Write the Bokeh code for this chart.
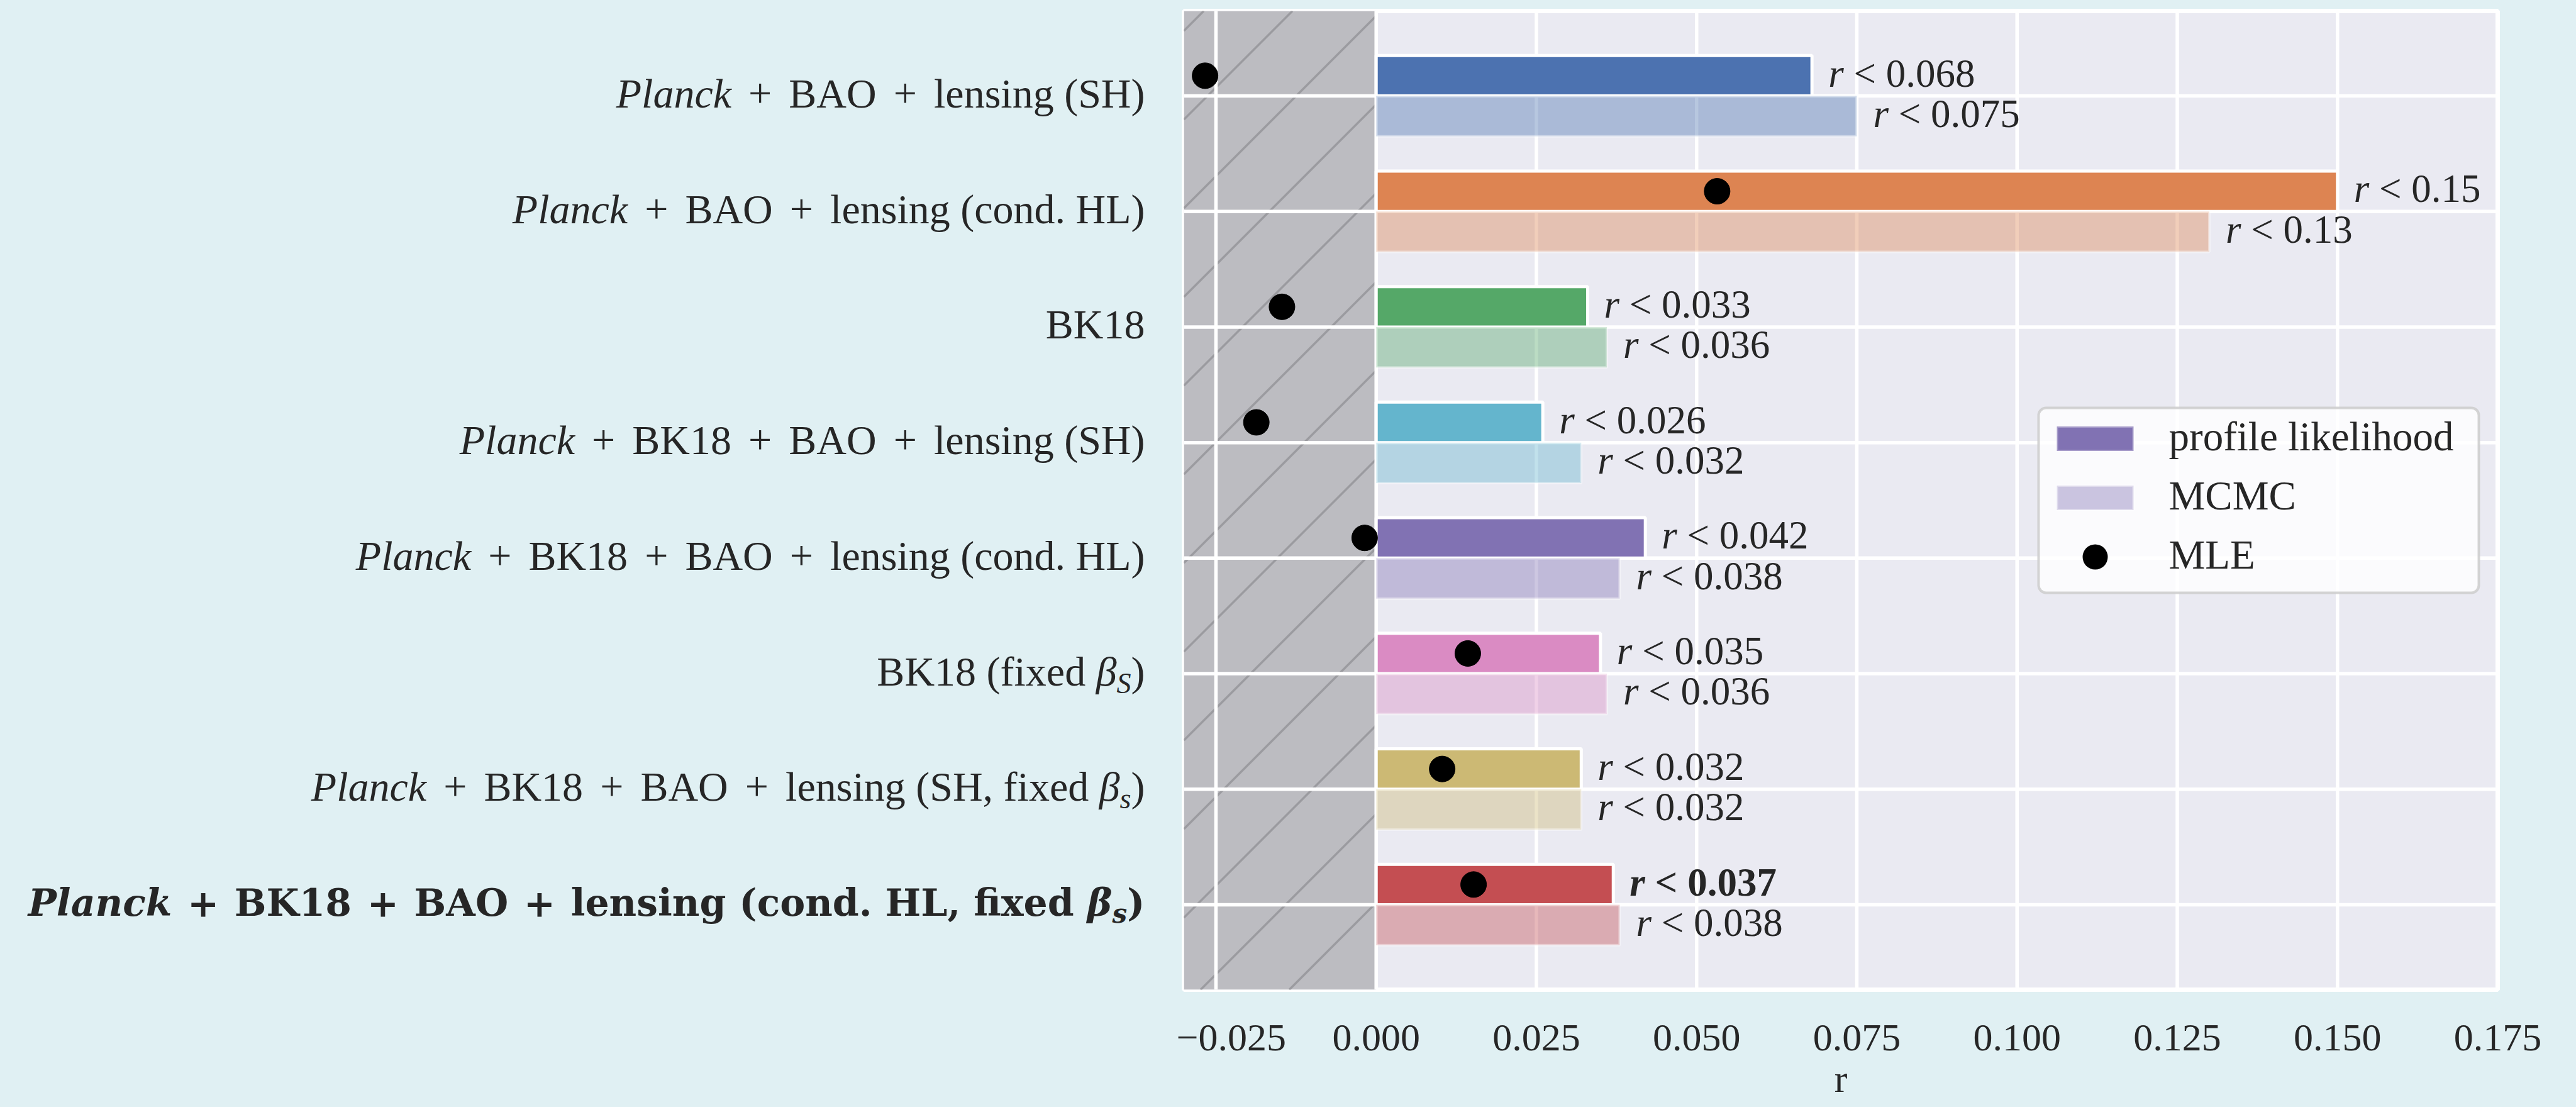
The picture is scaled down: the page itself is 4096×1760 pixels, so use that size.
import glob
import os

from bokeh.embed import file_html
from bokeh.layouts import row
from bokeh.models import (BoxAnnotation, ColumnDataSource, CustomJSTickFormatter,
                          FixedTicker, Label, Range1d)
from bokeh.plotting import figure
from bokeh.resources import INLINE

# ---------------------------------------------------------------------------
# Data: 95% upper limits on the tensor-to-scalar ratio r
# "*...*" marks italic runs, "_X" a one-character subscript
# ---------------------------------------------------------------------------
categories = [
    "*Planck* + BAO + lensing (SH)",
    "*Planck* + BAO + lensing (cond. HL)",
    "BK18",
    "*Planck* + BK18 + BAO + lensing (SH)",
    "*Planck* + BK18 + BAO + lensing (cond. HL)",
    "BK18 (fixed *β*_S)",
    "*Planck* + BK18 + BAO + lensing (SH, fixed *β*_s)",
    "*Planck* + BK18 + BAO + lensing (cond. HL, fixed *β*_s)",
]
highlight_row = 7

profile_upper = [0.068, 0.15, 0.033, 0.026, 0.042, 0.035, 0.032, 0.037]
mcmc_upper = [0.075, 0.13, 0.036, 0.032, 0.038, 0.036, 0.032, 0.038]
mle = [-0.0267, 0.0532, -0.0147, -0.0187, -0.0018, 0.0143, 0.0103, 0.0152]

x_ticks = [-0.025, 0.0, 0.025, 0.05, 0.075, 0.1, 0.125, 0.15, 0.175]
x_tick_labels = ["\u22120.025", "0.000", "0.025", "0.050", "0.075",
                 "0.100", "0.125", "0.150", "0.175"]
legend_labels = ["profile likelihood", "MCMC", "MLE"]

# ---------------------------------------------------------------------------
# Styling and page geometry (px, measured from the page's top-left corner)
# ---------------------------------------------------------------------------
palette = ["#4C72B0", "#DD8452", "#55A868", "#64B5CD",
           "#8172B3", "#DA8BC3", "#CCB974", "#C44E52"]
FONT = "Liberation Serif"
FONT_HL = "DejaVu Serif"                     # wide bold face for the highlighted row
INK = "#262626"
PAGE_BG = "#e0f0f3"
AXES_BG = "#EAEAF2"

W, H = 4096, 1760
LABEL_W = 1870                               # width of the category-label panel
FL, FR, FT, FB = 1882, 125, 17, 187          # main frame borders on the page
FW, FH = W - FL - FR, H - FT - FB
X0, X1 = -0.03, 0.175
Y_TOP, Y_BOT = -0.735, 7.735
BAR_H = 0.35
MCMC_ALPHA = 0.4

FS_YLAB, FS_ANN, FS_TICK, FS_LEG = 66, 63, 62, 65
LABEL_RIGHT = FL - 62                        # right edge of the category labels
HL_LEFT = 32                                 # left edge of the highlighted label
OP_PAD = 0.41                                # extra space around "+" (em)
MID_SHIFT = 0.06                             # optical centring of "middle" text (em)


def px_to_x(px):
    return X0 + (px - FL) / FW * (X1 - X0)


def px_to_y(py):
    return Y_TOP + (py - FT) / FH * (Y_BOT - Y_TOP)


def x_to_px(x):
    return FL + (x - X0) / (X1 - X0) * FW


def y_to_px(y):
    return FT + (y - Y_TOP) / (Y_BOT - Y_TOP) * FH


# ---------------------------------------------------------------------------
# Text measurement (for laying out mixed upright / italic runs)
# ---------------------------------------------------------------------------
_FILES = {
    "Liberation Serif": {"normal": "LiberationSerif-Regular.ttf",
                         "italic": "LiberationSerif-Italic.ttf",
                         "bold": "LiberationSerif-Bold.ttf",
                         "bold italic": "LiberationSerif-BoldItalic.ttf"},
    "DejaVu Serif": {"normal": "DejaVuSerif.ttf",
                     "italic": "DejaVuSerif-Italic.ttf",
                     "bold": "DejaVuSerif-Bold.ttf",
                     "bold italic": "DejaVuSerif-BoldItalic.ttf"},
}
_font_cache = {}


def _font_path(family, style):
    for root in ("/usr/share/fonts", "/usr/local/share/fonts",
                 os.path.expanduser("~/.fonts"), os.path.expanduser("~/.local/share/fonts")):
        hits = glob.glob(os.path.join(root, "**", _FILES[family][style]), recursive=True)
        if hits:
            return hits[0]
    return None


def text_width(s, style, size, family=FONT):
    key = (family, style, size)
    if key not in _font_cache:
        font = None
        try:
            from PIL import ImageFont
            path = _font_path(family, style)
            if path:
                font = ImageFont.truetype(path, int(size))
        except Exception:
            font = None
        _font_cache[key] = font
    font = _font_cache[key]
    if font is None:
        return (0.55 if family == FONT_HL else 0.48) * size * len(s)
    return font.getlength(s)


def font_style(italic, bold):
    if bold and italic:
        return "bold italic"
    if bold:
        return "bold"
    return "italic" if italic else "normal"


def parse_runs(label):
    """Split a marked-up label into (text, italic, subscript, operator) runs."""
    raw, buf, italic, i = [], "", False, 0
    while i < len(label):
        c = label[i]
        if c == "*":
            if buf:
                raw.append((buf, italic, False))
                buf = ""
            italic = not italic
        elif c == "_":
            if buf:
                raw.append((buf, italic, False))
                buf = ""
            raw.append((label[i + 1], True, True))
            i += 1
        else:
            buf += c
        i += 1
    if buf:
        raw.append((buf, italic, False))
    runs = []
    for text, it, sub in raw:
        parts = text.split(" + ")
        for k, part in enumerate(parts):
            if k:
                runs.append(("+", False, False, True))
            if part:
                runs.append((part, it, sub, False))
    return runs


def add_text(fig, x, y, text, style, size, family=FONT, align="left"):
    fig.add_layout(Label(x=x, y=y, x_units="data", y_units="data",
                         text=text, text_font=family, text_font_size=f"{size}px",
                         text_font_style=style, text_color=INK,
                         text_align=align, text_baseline="middle"))


def run_size(run, size):
    return round(size * 0.7) if run[2] else size


def runs_width(runs, size, bold, family=FONT):
    total = 0.0
    for run in runs:
        text, it, sub, op = run
        w = text_width(text, font_style(it, bold), run_size(run, size), family)
        total += w + (2 * OP_PAD * size if op else 0)
    return total


def draw_runs(fig, to_x, x_px, mid_px, runs, size, bold, family=FONT):
    """Lay out runs left to right from x_px, vertically centred on mid_px."""
    mid_px -= MID_SHIFT * size
    for run in runs:
        text, italic, sub, op = run
        style = font_style(italic, bold)
        fs = run_size(run, size)
        if op:
            x_px += OP_PAD * size
        lead = len(text) - len(text.lstrip())
        body = text.strip()
        if body:
            bx = x_px + (text_width(" " * lead, style, fs, family) if lead else 0)
            by = mid_px + (0.29 * size if sub else 0)
            add_text(fig, to_x(bx), px_to_y(by), body, style, fs, family)
        x_px += text_width(text, style, fs, family)
        if op:
            x_px += OP_PAD * size


rows = list(range(len(categories)))
y_range = Range1d(Y_BOT, Y_TOP)

# ---------------------------------------------------------------------------
# Main panel
# ---------------------------------------------------------------------------
p = figure(frame_width=FW, frame_height=FH, x_range=Range1d(X0, X1), y_range=y_range,
           output_backend="svg", toolbar_location=None, title=None,
           y_axis_location=None, x_axis_location="below",
           min_border_left=FL - LABEL_W, min_border_right=FR,
           min_border_top=FT, min_border_bottom=FB)
p.background_fill_color = AXES_BG
p.border_fill_color = PAGE_BG
p.outline_line_color = "white"
p.outline_line_width = 7
p.grid.visible = False

# excluded region r < 0, hatched with 45-degree lines
zero_px = x_to_px(0.0)
p.quad(left=X0, right=0, bottom=Y_BOT, top=Y_TOP, fill_color="#bcbcc1", line_color=None)
hx0, hx1, hy0, hy1 = [], [], [], []
HATCH_STEP, HATCH_PHASE = 141, 1930.5
c = HATCH_PHASE - HATCH_STEP * 10
while c < zero_px + FT + FH + HATCH_STEP:
    xa = max(FL, c - (FT + FH))
    xb = min(zero_px, c - FT)
    if xb > xa:
        hx0.append(px_to_x(xa)); hy0.append(px_to_y(c - xa))
        hx1.append(px_to_x(xb)); hy1.append(px_to_y(c - xb))
    c += HATCH_STEP
p.segment(x0=hx0, y0=hy0, x1=hx1, y1=hy1, line_color="#9b9ba0", line_width=3.5)

# grid on top of the shaded region, beneath the bars
p.segment(x0=x_ticks, x1=x_ticks, y0=Y_BOT, y1=Y_TOP, line_color="white", line_width=5.5)
p.segment(x0=X0, x1=X1, y0=rows, y1=rows, line_color="white", line_width=5.5)

src = ColumnDataSource(dict(
    y_prof=[i - BAR_H / 2 for i in rows],
    y_mcmc=[i + BAR_H / 2 for i in rows],
    prof=profile_upper, mcmc=mcmc_upper, mle=mle, color=palette,
))
p.hbar(y="y_prof", left=0, right="prof", height=BAR_H, source=src,
       fill_color="color", line_color="white", line_width=5)
p.hbar(y="y_mcmc", left=0, right="mcmc", height=BAR_H, source=src,
       fill_color="color", fill_alpha=MCMC_ALPHA, line_color="white",
       line_alpha=MCMC_ALPHA, line_width=4)
p.scatter(x="mle", y="y_prof", size=41, source=src, fill_color="black", line_color="black")

# x axis
p.xaxis.ticker = FixedTicker(ticks=x_ticks)
p.xaxis.formatter = CustomJSTickFormatter(
    args=dict(tick_values=x_ticks, tick_texts=x_tick_labels), code="""
    for (let k = 0; k < tick_values.length; k++) {
        if (Math.abs(tick_values[k] - tick) < 1e-9) return tick_texts[k];
    }
    return "";
""")
p.xaxis.axis_line_color = None
p.xaxis.major_tick_line_color = None
p.xaxis.minor_tick_line_color = None
p.xaxis.major_label_text_font = FONT
p.xaxis.major_label_text_font_size = f"{FS_TICK}px"
p.xaxis.major_label_text_color = INK
p.xaxis.major_label_standoff = 50
p.xaxis.axis_label = "r"
p.xaxis.axis_label_text_font = FONT
p.xaxis.axis_label_text_font_size = f"{FS_TICK}px"
p.xaxis.axis_label_text_font_style = "normal"
p.xaxis.axis_label_text_color = INK
p.xaxis.axis_label_standoff = 8

# "r < value" annotations next to each bar
for i in rows:
    for val, yc, bold in ((profile_upper[i], i - BAR_H / 2, i == highlight_row),
                          (mcmc_upper[i], i + BAR_H / 2, False)):
        runs = [("r", True, False, False), (f" < {val:g}", False, False, False)]
        draw_runs(p, px_to_x, x_to_px(val) + 26, y_to_px(yc), runs, FS_ANN, bold)

# legend
LEG_W, LEG_H = 700, 294
leg_r = FL + FW - 30
leg_l = leg_r - LEG_W
leg_t = FT + FH / 2 - LEG_H / 2
leg_b = leg_t + LEG_H


def box_px(l, r, t, b, **kw):
    p.add_layout(BoxAnnotation(left=px_to_x(l), right=px_to_x(r),
                               top=px_to_y(t), bottom=px_to_y(b), **kw))


box_px(leg_l, leg_r, leg_t, leg_b, fill_color="white", fill_alpha=0.8,
       line_color="#cccccc", line_alpha=0.85, line_width=4, border_radius=12)
sw_l, sw_w, sw_h = leg_l + 29, 122, 39
legend_color = palette[4]
centers = [leg_t + 49 + k * 94 for k in range(3)]
box_px(sw_l, sw_l + sw_w, centers[0] - sw_h / 2, centers[0] + sw_h / 2,
       fill_color=legend_color, fill_alpha=1.0, line_color="white", line_width=4)
box_px(sw_l, sw_l + sw_w, centers[1] - sw_h / 2, centers[1] + sw_h / 2,
       fill_color=legend_color, fill_alpha=MCMC_ALPHA, line_color="white",
       line_alpha=MCMC_ALPHA, line_width=4)
dot_r = 20
dot_cx = sw_l + sw_w / 2
box_px(dot_cx - dot_r, dot_cx + dot_r, centers[2] - dot_r, centers[2] + dot_r,
       fill_color="black", fill_alpha=1.0, line_color=None, border_radius=dot_r)
for k, text in enumerate(legend_labels):
    add_text(p, px_to_x(sw_l + sw_w + 56), px_to_y(centers[k] - MID_SHIFT * FS_LEG),
             text, "normal", FS_LEG)

# ---------------------------------------------------------------------------
# Category-label panel (x in page pixels, y shared with the main panel)
# ---------------------------------------------------------------------------
lab = figure(frame_width=LABEL_W, frame_height=FH, x_range=Range1d(0, LABEL_W),
             y_range=y_range, output_backend="svg", toolbar_location=None, title=None,
             x_axis_location=None, y_axis_location=None,
             min_border_left=0, min_border_right=0, min_border_top=FT, min_border_bottom=FB)
lab.background_fill_color = PAGE_BG
lab.border_fill_color = PAGE_BG
lab.outline_line_color = None
lab.grid.visible = False

for i, cat in enumerate(categories):
    runs = parse_runs(cat)
    if i == highlight_row:
        # bold, wide face sized to span the label column
        base = 58
        fitted = base * (LABEL_RIGHT - HL_LEFT) / runs_width(runs, base, True, FONT_HL)
        size = int(round(min(62, max(50, fitted))))
        total = runs_width(runs, size, True, FONT_HL)
        draw_runs(lab, lambda v: v, LABEL_RIGHT - total, y_to_px(i), runs, size, True, FONT_HL)
    else:
        total = runs_width(runs, FS_YLAB, False)
        draw_runs(lab, lambda v: v, LABEL_RIGHT - total, y_to_px(i), runs, FS_YLAB, False)

layout = row(lab, p, spacing=0, styles={"background-color": PAGE_BG})
open("out.html", "w").write(file_html(layout, INLINE))
